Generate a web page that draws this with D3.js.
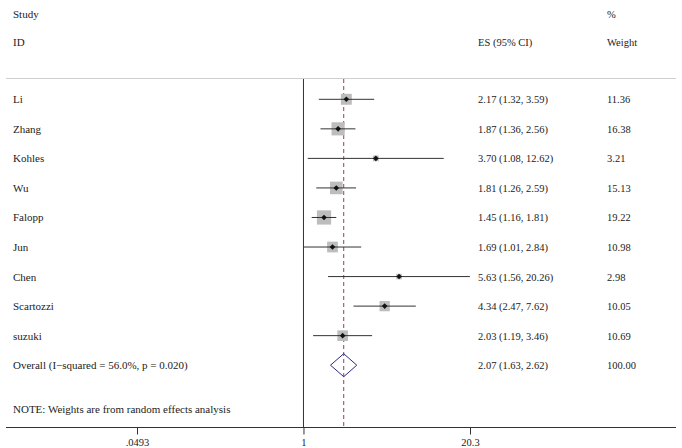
<!DOCTYPE html>
<html><head><meta charset="utf-8">
<script src="https://cdn.jsdelivr.net/npm/d3@7/dist/d3.min.js"></script>
<style>body{margin:0;background:#fff}svg{display:block}text{font-family:"Liberation Serif","Times New Roman",serif;font-size:10.5px;fill:#222}</style>
</head><body><svg id="c" width="682" height="448"></svg>
<script>
const studies = ["Li","Zhang","Kohles","Wu","Falopp","Jun","Chen","Scartozzi","suzuki"];
const es    = [2.17,1.87,3.70,1.81,1.45,1.69,5.63,4.34,2.03];
const lower = [1.32,1.36,1.08,1.26,1.16,1.01,1.56,2.47,1.19];
const upper = [3.59,2.56,12.62,2.59,1.81,2.84,20.26,7.62,3.46];
const weights = [11.36,16.38,3.21,15.13,19.22,10.98,2.98,10.05,10.69];
const overall = {label:"Overall (I\u2212squared = 56.0%, p = 0.020)", es:2.07, lower:1.63, upper:2.62, weight:100.00};
const tickVals = [0.0493, 1, 20.3];
const tickLabels = [".0493", "1", "20.3"];
const note = "NOTE: Weights are from random effects analysis";

const svg = d3.select("#c");
const x = d3.scaleLog().domain([0.0493, 20.3]).range([137, 470]);
const y = d3.scaleLinear().domain([0, 9]).range([99.3, 365.2]);
const boxSide = d3.scaleSqrt().domain([0, 20]).range([0, 14.5]);
const fmt = d3.format(".2f");
const leftFS = "11px";

// headers
svg.append("text").attr("x",13).attr("y",18).style("font-size",leftFS).text("Study");
svg.append("text").attr("x",13).attr("y",46).style("font-size",leftFS).text("ID");
svg.append("text").attr("x",478).attr("y",46).text("ES (95% CI)");
svg.append("text").attr("x",607).attr("y",18).text("%");
svg.append("text").attr("x",607).attr("y",46).text("Weight");

// top rule
svg.append("line").attr("x1",6).attr("x2",676).attr("y1",78.5).attr("y2",78.5).attr("stroke","#cfcfcf").attr("stroke-width",1);

const yTop = 79, yAxis = 427.5;
svg.append("line").attr("x1",x(1)).attr("x2",x(1)).attr("y1",yTop).attr("y2",yAxis).attr("stroke","#333").attr("stroke-width",1);
svg.append("line").attr("x1",x(overall.es)).attr("x2",x(overall.es)).attr("y1",yTop).attr("y2",yAxis)
  .attr("stroke","#9b3b57").attr("stroke-width",1).attr("stroke-dasharray","4,3");

const rows = studies.map((s,i)=>({s,es:es[i],lo:lower[i],hi:upper[i],w:weights[i],i}));
const g = svg.append("g");
rows.forEach(d=>{
  const cy = y(d.i), side = boxSide(d.w);
  g.append("rect").attr("x",x(d.es)-side/2).attr("y",cy-side/2).attr("width",side).attr("height",side).attr("fill","#bdbdbd");
  g.append("line").attr("x1",x(d.lo)).attr("x2",x(d.hi)).attr("y1",cy).attr("y2",cy).attr("stroke","#333").attr("stroke-width",1);
  const px = x(d.es);
  g.append("path").attr("d",`M${px-2.8},${cy}L${px},${cy-2.8}L${px+2.8},${cy}L${px},${cy+2.8}Z`).attr("fill","#111");
  svg.append("text").attr("x",13).attr("y",cy+4).style("font-size",leftFS).text(d.s);
  svg.append("text").attr("x",478).attr("y",cy+4).text(`${fmt(d.es)} (${fmt(d.lo)}, ${fmt(d.hi)})`);
  svg.append("text").attr("x",607).attr("y",cy+4).text(fmt(d.w));
});

const oy = y(9);
svg.append("path").attr("d",`M${x(overall.lower)},${oy}L${x(overall.es)},${oy-11.5}L${x(overall.upper)},${oy}L${x(overall.es)},${oy+11.5}Z`)
  .attr("fill","none").attr("stroke","#2e2a78").attr("stroke-width",1);
svg.append("text").attr("x",13).attr("y",oy+4).style("font-size",leftFS).text(overall.label);
svg.append("text").attr("x",478).attr("y",oy+4).text(`${fmt(overall.es)} (${fmt(overall.lower)}, ${fmt(overall.upper)})`);
svg.append("text").attr("x",607).attr("y",oy+4).text(fmt(overall.weight));

svg.append("text").attr("x",13).attr("y",413).style("font-size",leftFS).text(note);

// axis
svg.append("line").attr("x1",6).attr("x2",676).attr("y1",yAxis).attr("y2",yAxis).attr("stroke","#333").attr("stroke-width",1);
const ax = svg.append("g").attr("transform",`translate(0,${yAxis})`)
  .call(d3.axisBottom(x).tickValues(tickVals).tickFormat((d,i)=>tickLabels[i]).tickSize(7).tickPadding(4));
ax.select(".domain").remove();
ax.selectAll(".tick line").attr("stroke","#333");
ax.selectAll(".tick text").attr("font-family","Liberation Serif, serif").attr("font-size","10.5px").attr("fill","#222");
</script></body></html>
